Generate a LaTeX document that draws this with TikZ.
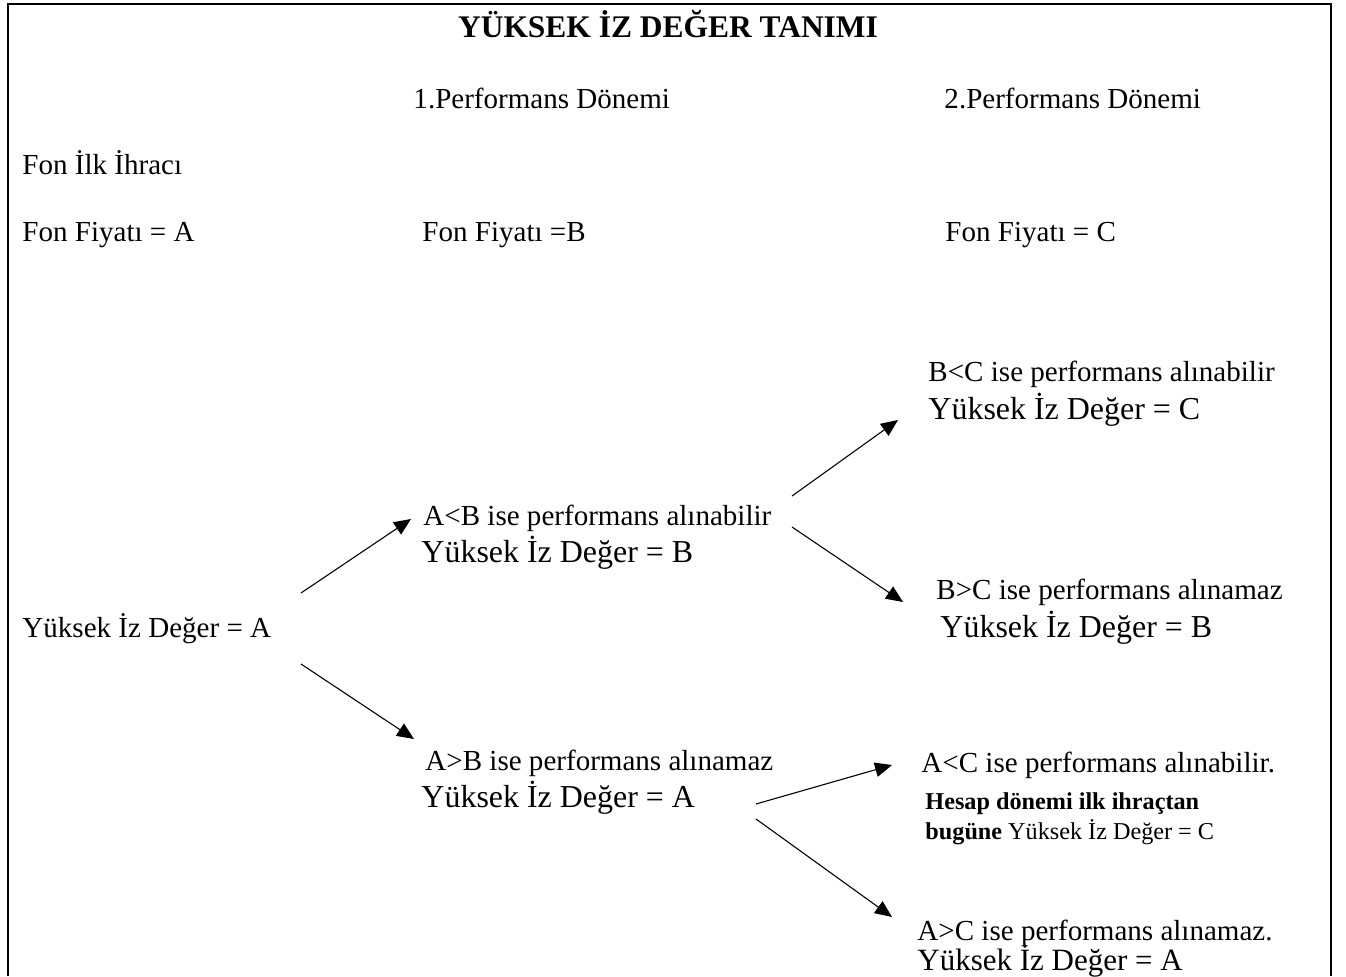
\documentclass[tikz,border=0pt]{standalone}
\usepackage{fontspec}
\setmainfont{Liberation Serif}
\usetikzlibrary{arrows.meta}

\tikzset{
  txt/.style={anchor=base west,inner sep=0pt,font=\fontsize{12}{14}\selectfont},
  bigtxt/.style={txt,font=\fontsize{13.2}{15}\selectfont},
  smalltxt/.style={txt,font=\fontsize{10}{12}\selectfont},
  branch/.style={line width=0.45pt,-{Triangle[length=7pt,width=6pt]}}
}

\begin{document}
\begin{tikzpicture}[x=0.4132pt,y=-0.4132pt]
	    % Page size and open frame
	    \useasboundingbox (0,0) rectangle (1346,976);
	    \draw [line width=0.9pt] (8,976) -- (8,4) -- (1331,4) -- (1331,976);

	    % Heading and periods
	    \node [anchor=base,inner sep=0pt,font=\fontsize{13}{15}\selectfont\bfseries]
		(title) at (668,37) {YÜKSEK İZ DEĞER TANIMI};
	    \node [txt] (period one) at (413,108) {1.Performans Dönemi};
	    \node [txt] (period two) at (944,108) {2.Performans Dönemi};

	    % Fund prices
	    \node [txt] (issue)   at (22,174)  {Fon İlk İhracı};
	    \node [txt] (price A) at (22,241)  {Fon Fiyatı = A};
	    \node [txt] (price B) at (422,241) {Fon Fiyatı =B};
	    \node [txt] (price C) at (945,241) {Fon Fiyatı = C};

	    % Starting value
	    \node [txt] (start) at (22,637) {Yüksek İz Değer = A};

	    % First period outcomes
	    \node [txt]    (AltB)     at (423,525) {A<B ise performans alınabilir};
	    \node [bigtxt] (AltB val) at (421,562) {Yüksek İz Değer = B};
	    \node [txt]    (AgtB)     at (425,770) {A>B ise performans alınamaz};
	    \node [bigtxt] (AgtB val) at (421,807) {Yüksek İz Değer = A};

	    % Second period outcomes
	    \node [txt]    (BltC)     at (928,381) {B<C ise performans alınabilir};
	    \node [bigtxt] (BltC val) at (928,419) {Yüksek İz Değer = C};
	    \node [txt]    (BgtC)     at (936,599) {B>C ise performans alınamaz};
	    \node [bigtxt] (BgtC val) at (940,637) {Yüksek İz Değer = B};
	    \node [txt]      (AltC)     at (921,772) {A<C ise performans alınabilir.};
	    \node [smalltxt] (AltC one) at (925,809) {\bfseries Hesap dönemi ilk ihraçtan};
	    \node [smalltxt] (AltC two) at (925,839) {\textbf{bugüne} Yüksek İz Değer = C};
	    \node [txt] (AgtC)     at (917,940) {A>C ise performans alınamaz.};
	    \node [txt,font=\fontsize{12.8}{15}\selectfont] (AgtC val) at (917,970) {Yüksek İz Değer = A};

	    % Arrow ends
	    \coordinate (start up)   at (301,593);
	    \coordinate (start down) at (301,664);
	    \coordinate (AltB tip)   at (411,519);
	    \coordinate (AgtB tip)   at (414,739);
	    \coordinate (B up)       at (792,496);
	    \coordinate (B down)     at (792,527);
	    \coordinate (BltC tip)   at (898,420);
	    \coordinate (BgtC tip)   at (903,602);
	    \coordinate (A up)       at (756,804);
	    \coordinate (A down)     at (756,819);
	    \coordinate (AltC tip)   at (892,765);
	    \coordinate (AgtC tip)   at (892,917);

	    % Draw the branches
	    \draw [branch] (start up) -- (AltB tip);
	    \draw [branch] (start down) -- (AgtB tip);
	    \draw [branch] (B up) -- (BltC tip);
	    \draw [branch] (B down) -- (BgtC tip);
	    \draw [branch] (A up) -- (AltC tip);
	    \draw [branch] (A down) -- (AgtC tip);
\end{tikzpicture}
\end{document}
